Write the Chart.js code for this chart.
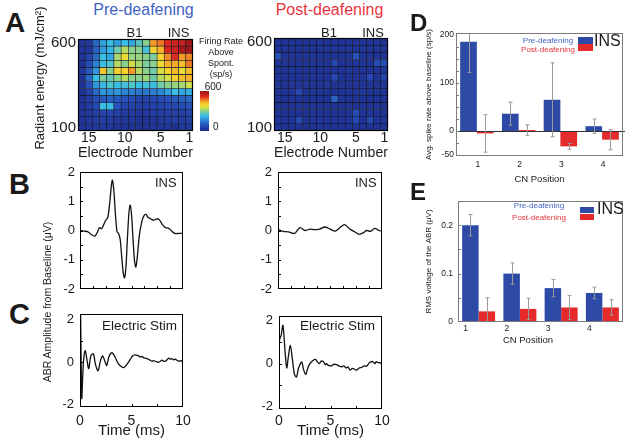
<!DOCTYPE html>
<html><head><meta charset="utf-8">
<script src="https://cdn.jsdelivr.net/npm/chart.js@4.4.1/dist/chart.umd.min.js"></script>
<style>
html,body{margin:0;padding:0;background:#fff;}
#root{position:relative;width:629px;height:445px;overflow:hidden;font-family:'Liberation Sans',Arial,Helvetica,sans-serif;color:#1a1a1a;}
canvas{position:absolute;}
.t{position:absolute;white-space:nowrap;line-height:1;}
</style></head><body><div id="root"></div>
<script>
// ---------------- DATA ----------------
const electrodes = ['16','15','14','13','12','11','10','9','8','7','6','5','4','3','2','1'];
const electrodeTickLabels = ['15','10','5','1'];
const energyLevels = ['600','558','517','475','433','392','350','308','267','225','183','142','100'];
const energyTickLabels = ['600','100'];
// firing rate above spontaneous (sp/s), rows top (600) -> bottom (100), columns electrode 16 -> 1
const ratePre = [
 [20,30,120,200,230,190,230,200,260,300,450,470,520,540,550,590],
 [20,30,110,190,220,280,330,300,300,240,400,430,530,540,580,590],
 [20,60,120,230,200,320,380,310,310,300,290,400,460,520,450,460],
 [20,80,150,230,250,330,300,350,320,290,300,380,430,440,420,470],
 [30,100,180,410,300,400,400,450,330,300,280,360,400,420,380,420],
 [20,120,230,290,270,300,330,300,300,310,280,330,350,400,420,430],
 [20,90,180,220,250,230,240,250,230,240,230,280,300,310,320,350],
 [20,60,120,180,170,180,160,150,140,140,150,160,190,230,200,210],
 [20,40,80,100,110,100,90,80,60,60,70,80,90,100,110,120],
 [20,40,70,230,230,90,60,60,50,50,50,60,70,70,80,90],
 [20,30,50,60,60,50,40,40,30,30,40,40,50,50,50,60],
 [20,30,40,50,40,30,30,30,20,20,20,30,40,50,40,50],
 [20,20,30,30,30,20,20,20,20,20,20,20,30,10,30,30]
];
const ratePost = [
 [20,20,25,20,20,20,25,20,20,20,20,25,20,20,25,20],
 [20,25,20,20,20,20,20,20,25,20,20,20,20,25,20,20],
 [90,20,20,20,25,20,20,20,20,20,20,90,20,20,20,20],
 [20,20,20,20,20,20,20,20,70,20,20,20,20,20,80,80],
 [20,20,25,20,20,20,20,20,20,20,25,20,20,20,20,25],
 [20,20,20,20,20,20,20,20,70,20,20,20,20,70,20,60],
 [25,20,20,20,20,20,20,25,20,20,20,20,20,20,20,20],
 [20,20,20,70,20,20,20,20,20,20,20,20,25,20,20,20],
 [20,20,20,20,20,20,20,20,110,20,20,20,20,20,20,20],
 [20,20,20,25,20,20,20,20,20,20,20,20,20,20,25,20],
 [20,20,20,20,20,20,20,20,20,20,20,80,20,20,20,20],
 [20,20,20,70,20,20,20,20,20,20,20,70,20,70,20,20],
 [20,20,20,20,20,20,25,20,20,20,20,25,20,20,20,20]
];
// ABR waveforms (time ms, amplitude uV)
const timeInsPre = [0,0.4,0.8,1.1,1.45,1.7,1.9,2.1,2.3,2.5,2.7,2.9,3.05,3.15,3.3,3.45,3.6,3.75,3.9,4.05,4.2,4.32,4.45,4.6,4.75,4.87,5.0,5.15,5.3,5.42,5.55,5.75,6.0,6.2,6.4,6.6,6.85,7.1,7.35,7.6,7.8,8.0,8.3,8.6,8.9,9.2,9.6,10];
const ampInsPre  = [0.0,-0.02,-0.05,-0.14,-0.19,-0.05,0.1,0.06,0.2,0.35,0.45,1.0,1.55,1.72,1.3,0.5,-0.05,-0.1,-0.3,-0.9,-1.45,-1.62,-1.3,-0.3,0.6,0.87,0.55,-0.3,-1.05,-1.25,-0.95,-0.2,0.3,0.5,0.55,0.45,0.4,0.35,0.38,0.4,0.32,0.2,0.1,0.08,-0.02,-0.1,-0.1,-0.1];
const timeInsPost = [0,0.5,1.0,1.6,2.1,2.6,3.1,3.5,4.0,4.5,5.0,5.5,5.9,6.4,6.9,7.4,7.8,8.2,8.5,8.9,9.3,9.7,10];
const ampInsPost  = [0.03,-0.03,-0.05,-0.1,0.1,0.0,0.05,0.03,0.05,0.12,0.05,-0.02,0.08,0.2,0.05,-0.05,-0.13,-0.08,0.0,-0.03,0.07,0.0,-0.02];
const timeElecPre = [0,0.05,0.1,0.17,0.25,0.35,0.5,0.65,0.85,1.05,1.3,1.5,1.75,2.0,2.2,2.45,2.6,2.8,3.1,3.4,3.7,4.0,4.25,4.55,4.9,5.1,5.35,5.5,5.7,5.85,6.0,6.15,6.3,6.5,6.65,6.8,7.0,7.15,7.3,7.5,7.6,7.8,7.95,8.1,8.3,8.45,8.6,8.75,8.9,9.1,9.25,9.4,9.6,9.8,10];
const ampElecPre  = [0,2.3,0.5,-1.7,-0.8,0.1,0.55,0.2,-0.3,0.3,0.4,-0.1,-0.4,0.1,0.3,0.0,-0.15,0.25,0.45,0.25,-0.05,-0.2,-0.25,-0.1,0.15,0.3,0.35,0.33,0.3,0.25,0.28,0.22,0.2,0.17,0.15,0.1,0.05,0.08,0.05,0.02,0.0,0.05,0.1,0.06,0.05,0.12,0.2,0.15,0.17,0.12,0.15,0.1,0.05,0.08,0.0];
const timeElecPost = [0,0.03,0.1,0.2,0.38,0.6,0.75,0.9,1.1,1.3,1.5,1.7,1.9,2.2,2.4,2.6,2.8,3.0,3.3,3.55,3.7,3.9,4.1,4.3,4.5,4.6,4.8,5.1,5.3,5.6,5.8,6.05,6.3,6.5,6.7,6.9,7.1,7.3,7.5,7.8,8.0,8.3,8.5,8.8,9.1,9.3,9.45,9.6,9.8,10];
const ampElecPost  = [-2.1,1.0,1.2,1.3,1.8,0.5,-0.2,0.3,0.85,0.2,-0.5,-0.62,-0.2,0.08,-0.3,-0.5,-0.2,0.0,0.15,0.2,0.1,0.0,0.12,0.1,-0.05,0.0,-0.08,-0.1,-0.03,-0.05,-0.1,-0.15,-0.1,-0.2,-0.15,-0.3,-0.22,-0.25,-0.3,-0.2,-0.18,-0.1,-0.12,0.05,0.1,0.0,0.1,0.05,0.05,-0.03];
const waveYTicks = [-2,-1,0,1,2];
const elecYTicks = [-2,0,2];
const timeTicks = [0,5,10];
// Panel D / E
const cnPositions = ['1','2','3','4'];
const spikePre = [186,36,65,10];
const spikePreErr = [64,24,77,15];
const spikePost = [-5,2,-32,-18];
const spikePostErr = [39,11,6,21];
const spikeTicks = [-50,0,100,200];
const rmsPre = [0.2,0.1,0.07,0.06];
const rmsPreErr = [0.022,0.022,0.018,0.012];
const rmsPost = [0.022,0.027,0.03,0.03];
const rmsPostErr = [0.028,0.022,0.025,0.016];
const rmsTicks = [0,0.1,0.2];

// ---------------- STYLE / HELPERS ----------------
const FONT = "'Liberation Sans', Arial, Helvetica, sans-serif";
Chart.defaults.font.family = FONT;
Chart.defaults.color = '#1a1a1a';
const BLUE = '#2d4aa6', RED = '#e52a2c', TBLUE = '#4262c4', TRED = '#e8343c';
const root = document.getElementById('root');

const cmap = [[0,[30,44,140]],[0.14,[38,78,185]],[0.28,[45,140,215]],[0.38,[55,190,230]],[0.48,[120,205,160]],[0.57,[200,222,80]],[0.65,[245,220,50]],[0.74,[245,165,40]],[0.85,[230,45,35]],[1,[150,20,25]]];
function cmapColor(t){
  t = Math.max(0, Math.min(1, t));
  for (let i=1;i<cmap.length;i++){
    if (t <= cmap[i][0]){
      const [t0,c0] = cmap[i-1], [t1,c1] = cmap[i];
      const f = (t-t0)/(t1-t0);
      return 'rgb(' + c0.map((c,k)=>Math.round(c+(c1[k]-c)*f)).join(',') + ')';
    }
  }
  return 'rgb(150,20,25)';
}
const rateColor = v => cmapColor(v/600);

function txt(s, x, base, size, o={}){
  const d = document.createElement('div');
  d.className='t'; d.textContent = s;
  d.style.fontSize = size+'px';
  d.style.top = (base - 0.8465*size)+'px';
  d.style.left = x+'px';
  if (o.bold) d.style.fontWeight='bold';
  if (o.color) d.style.color = o.color;
  if (o.align==='center') d.style.transform='translateX(-50%)';
  root.appendChild(d); return d;
}
function vtxt(s, cx, cy, size){
  const d = document.createElement('div'); d.className='t';
  d.textContent = s; d.style.fontSize = size+'px';
  d.style.left = cx+'px'; d.style.top = cy+'px';
  d.style.transform = 'translate(-50%,-50%) rotate(-90deg)';
  root.appendChild(d); return d;
}
function box(x,y,w,h,bg){
  const d=document.createElement('div'); d.style.position='absolute';
  d.style.left=x+'px'; d.style.top=y+'px'; d.style.width=w+'px'; d.style.height=h+'px'; d.style.background=bg;
  root.appendChild(d); return d;
}
function makeCanvas(area, m){
  const c = document.createElement('canvas');
  const w = area.r-area.l+m.L+m.R, h = area.b-area.t+m.T+m.B;
  c.width=w; c.height=h; c.style.width=w+'px'; c.style.height=h+'px';
  c.style.left=(area.l-m.L)+'px'; c.style.top=(area.t-m.T)+'px';
  root.appendChild(c); return c;
}
const zeroPad = s => { s.paddingLeft=0; s.paddingRight=0; s.paddingTop=0; s.paddingBottom=0; };
const fixW = w => s => { s.width = w; zeroPad(s); };
const fixH = h => s => { s.height = h; zeroPad(s); };

const framePlugin = {
  id: 'frame',
  afterDatasetsDraw(chart, args, o){
    const {ctx, chartArea:a, scales} = chart;
    ctx.save();
    if (o.zeroLine){
      const y = Math.round(scales.y.getPixelForValue(0))+0.5;
      ctx.strokeStyle='#333'; ctx.lineWidth=1;
      ctx.beginPath(); ctx.moveTo(a.left,y); ctx.lineTo(a.right+2,y); ctx.stroke();
    }
    if (o.errors){
      ctx.beginPath(); ctx.rect(a.left, a.top, a.right-a.left, a.bottom-a.top); ctx.clip();
      ctx.strokeStyle = o.errColor || '#9a9a9a'; ctx.lineWidth = 1;
      chart.data.datasets.forEach((ds, di) => {
        if (!ds.errors) return;
        chart.getDatasetMeta(di).data.forEach((bar, j) => {
          const v = ds.data[j], e = ds.errors[j];
          const x = Math.round(bar.x)+0.5;
          const y1 = scales.y.getPixelForValue(v+e), y2 = scales.y.getPixelForValue(v-e);
          ctx.beginPath();
          ctx.moveTo(x,y1); ctx.lineTo(x,y2);
          ctx.moveTo(x-2,y1); ctx.lineTo(x+2,y1);
          ctx.moveTo(x-2,y2); ctx.lineTo(x+2,y2);
          ctx.stroke();
        });
      });
    }
    ctx.restore();
  },
  afterDraw(chart, args, o){
    const {ctx, chartArea:a, scales} = chart;
    ctx.save();
    ctx.strokeStyle = o.color || '#000'; ctx.lineWidth = o.width || 1;
    if (o.ticks){
      const len = o.len || 3;
      ctx.beginPath();
      (o.ticks.y||[]).forEach(v => { const y = Math.round(scales.y.getPixelForValue(v))+0.5; ctx.moveTo(a.left, y); ctx.lineTo(a.left+len, y); });
      (o.ticks.x||[]).forEach(v => { const x = Math.round(scales.x.getPixelForValue(v))+0.5; ctx.moveTo(x, a.bottom); ctx.lineTo(x, a.bottom-len); });
      ctx.lineWidth = 1; ctx.stroke();
    }
    ctx.lineWidth = o.width || 1;
    ctx.strokeRect(a.left+0.5, a.top+0.5, a.right-a.left-1, a.bottom-a.top-1);
    ctx.restore();
  }
};

const base = { responsive:false, animation:false, devicePixelRatio:1, events:[] };

// ---------------- HEATMAPS ----------------
function heatmap(grid, area, m){
  const rows = energyLevels.length;
  const c = makeCanvas(area, m);
  new Chart(c, {
    type:'bar',
    data:{ labels: electrodes,
      datasets: grid.map((row,i)=>({
        data: row.map(()=>[rows-1-i, rows-i]),
        backgroundColor: row.map(rateColor),
        borderColor:'#141420', borderWidth:0.6, borderSkipped:false,
        grouped:false, barPercentage:1, categoryPercentage:1
      }))
    },
    options:{ ...base,
      layout:{padding:{top:m.T,right:m.R,left:0,bottom:0}},
      plugins:{legend:{display:false}, tooltip:{enabled:false}, frame:{color:'#000', width:1.2}},
      scales:{
        x:{ grid:{display:false, drawTicks:false}, border:{display:false}, afterFit: fixH(m.B),
            ticks:{autoSkip:false, maxRotation:0, padding:0, font:{size:14, lineHeight:1}, color:'#1a1a1a',
                   callback:(v,i)=> electrodeTickLabels.includes(electrodes[i]) ? electrodes[i] : ''},
            title:{display:true, text:'Electrode Number', font:{size:15}, padding:0, color:'#1a1a1a'} },
        y:{ type:'linear', min:0, max:rows, grid:{display:false, drawTicks:false}, border:{display:false}, afterFit: fixW(m.L),
            afterBuildTicks: s => { s.ticks = energyLevels.map((e,i)=>({value: rows-1-i+0.5})); },
            ticks:{autoSkip:false, padding:2, font:{size:15, lineHeight:1}, color:'#1a1a1a',
                   callback: v => { const e = energyLevels[rows-1-Math.floor(v)]; return energyTickLabels.includes(e) ? e : ''; }} }
      }
    },
    plugins:[framePlugin]
  });
}
heatmap(ratePre, {l:78,t:39,r:193,b:131}, {L:48,T:14,R:10,B:31});
heatmap(ratePost, {l:274,t:38,r:388,b:131}, {L:32,T:14,R:10,B:31});

// ---------------- WAVEFORMS ----------------
function wave(times, amps, area, m, o){
  const c = makeCanvas(area, m);
  new Chart(c, {
    type:'line',
    data:{ datasets:[{ data: times.map((t,i)=>({x:t, y:amps[i]})), borderColor:'#111', borderWidth:1.3,
           pointRadius:0, tension:0.3, fill:false }]},
    options:{ ...base,
      layout:{padding:{top:m.T,right:m.R,left:0,bottom:0}},
      plugins:{legend:{display:false}, tooltip:{enabled:false},
               frame:{color:'#000', width:1, len:3, ticks:o.innerTicks}},
      scales:{
        x:{ type:'linear', min:0, max:10, grid:{display:false, drawTicks:false}, border:{display:false}, afterFit: fixH(m.B),
            afterBuildTicks: s => { s.ticks = timeTicks.map(v=>({value:v})); },
            ticks:{display: o.xLabels, padding:o.xPad||0, maxRotation:0, font:{size:14, lineHeight:1}, color:'#1a1a1a'},
            title:{display: o.xLabels, text:'Time (ms)', font:{size:15}, padding:0, color:'#1a1a1a'} },
        y:{ type:'linear', min:o.ymin, max:o.ymax, grid:{display:false, drawTicks:false}, border:{display:false}, afterFit: fixW(m.L),
            afterBuildTicks: s => { s.ticks = o.yTicks.map(v=>({value:v})); },
            ticks:{padding:o.yPad, font:{size:13, lineHeight:1}, color:'#1a1a1a'} }
      }
    },
    plugins:[framePlugin]
  });
}
const bInner = {y:[-1.5,-1,-0.5,0,0.5,1,1.5], x:[1.25,2.5,3.75,5,6.25,7.5,8.75]};
const cInner = {y:[-1,0,1], x:[2.5,5,7.5]};
wave(timeInsPre, ampInsPre, {l:80,t:172,r:183,b:289}, {L:25,T:9,R:8,B:10}, {ymin:-2, ymax:2, yTicks:waveYTicks, yPad:5, xLabels:false, innerTicks:bInner});
wave(timeInsPost, ampInsPost, {l:278,t:172,r:382,b:289}, {L:25,T:9,R:8,B:10}, {ymin:-2, ymax:2, yTicks:waveYTicks, yPad:6, xLabels:false, innerTicks:bInner});
wave(timeElecPre, ampElecPre, {l:80,t:314,r:183,b:407}, {L:25,T:9,R:12,B:33}, {ymin:-2.1, ymax:2.27, yTicks:elecYTicks, yPad:6, xLabels:true, xPad:7, innerTicks:cInner});
wave(timeElecPost, ampElecPost, {l:279,t:316,r:382,b:409}, {L:25,T:9,R:12,B:31}, {ymin:-2.12, ymax:2.23, yTicks:elecYTicks, yPad:6, xLabels:true, xPad:5, innerTicks:cInner});

// ---------------- BAR PANELS D / E ----------------
function barPanel(pre, preErr, post, postErr, area, m, o){
  const c = makeCanvas(area, m);
  new Chart(c, {
    type:'bar',
    data:{ labels: cnPositions, datasets:[
      {label:'Pre-deafening', data: pre, errors: preErr, backgroundColor: BLUE, categoryPercentage:0.8, barPercentage:1},
      {label:'Post-deafening', data: post, errors: postErr, backgroundColor: RED, categoryPercentage:0.8, barPercentage:1}
    ]},
    options:{ ...base,
      layout:{padding:{top:m.T,right:m.R,left:0,bottom:0}},
      plugins:{legend:{display:false}, tooltip:{enabled:false},
               frame:{color:'#7a7a7a', width:1, len:3, ticks:{y:o.innerY}, errors:true, zeroLine:o.zeroLine}},
      scales:{
        x:{ grid:{display:false, drawTicks:false}, border:{display:false}, afterFit: fixH(m.B),
            ticks:{padding:o.xPad, labelOffset:o.labelOffset, font:{size:8.5, lineHeight:1}, color:'#1a1a1a'},
            title:{display: !!o.xTitle, text:o.xTitle||'', font:{size:9.5}, padding:0, color:'#1a1a1a'} },
        y:{ type:'linear', min:o.ymin, max:o.ymax, grid:{display:false, drawTicks:false}, border:{display:false}, afterFit: fixW(m.L),
            afterBuildTicks: s => { s.ticks = o.yTicks.map(v=>({value:v})); },
            ticks:{padding:o.yPad, font:{size:8.5, lineHeight:1}, color:'#1a1a1a'},
            title:{display:true, text:o.yTitle, font:{size:8}, padding:{top:4,bottom:4}, color:'#1a1a1a'} }
      }
    },
    plugins:[framePlugin]
  });
}
barPanel(spikePre, spikePreErr, spikePost, spikePostErr, {l:456,t:33,r:623,b:156}, {L:36,T:8,R:5,B:29},
  {ymin:-52, ymax:204, yTicks:spikeTicks, innerY:[-25,0,25,50,75,100,125,150,175], yPad:2, xPad:4, labelOffset:1,
   xTitle:'CN Position', yTitle:'Avg. spike rate above baseline (sp/s)', zeroLine:true});
barPanel(rmsPre, rmsPreErr, rmsPost, rmsPostErr, {l:458,t:201,r:623,b:322}, {L:38,T:8,R:5,B:14},
  {ymin:0, ymax:0.25, yTicks:rmsTicks, innerY:[0.05,0.1,0.15,0.2], yPad:5, xPad:2.5, labelOffset:-13,
   xTitle:null, yTitle:'RMS voltage of the ABR (μV)', zeroLine:false});

// ---------------- TEXT / LEGENDS ----------------
txt('A', 5, 33, 28, {bold:true});
txt('B', 9, 195, 29, {bold:true});
txt('C', 9, 325, 29, {bold:true});
txt('D', 410, 31, 24, {bold:true});
txt('E', 410, 200, 24, {bold:true});
txt('Pre-deafening', 143.5, 16, 16, {align:'center', color:TBLUE});
txt('Post-deafening', 329.5, 16, 16, {align:'center', color:TRED});
txt('B1', 134.5, 37, 13, {align:'center'}); txt('INS', 178.5, 37, 13, {align:'center'});
txt('B1', 329, 37, 13, {align:'center'}); txt('INS', 373, 37, 13, {align:'center'});
vtxt('Radiant energy (mJ/cm²)', 39, 78, 13);
// colour bar
(function(){
  const stops = cmap.map(([t,c]) => 'rgb('+c.join(',')+') '+(t*100)+'%').join(',');
  box(200, 91, 9, 40, 'linear-gradient(to top,'+stops+')');
  ['Firing Rate','Above','Spont.','(sp/s)'].forEach((s,i)=>txt(s, 221, 45+i*10.8, 9, {align:'center'}));
  txt('600', 213, 90, 10, {align:'center'});
  txt('0', 213, 130, 10);
})();
txt('INS', 155, 187, 13); txt('INS', 355, 187, 13);
txt('Electric Stim', 102, 330, 13.5); txt('Electric Stim', 300, 330, 13.5);
vtxt('ABR Amplitude from Baseline (μV)', 47, 302, 10.5);
// legends D
txt('Pre-deafening', 548, 44, 8, {align:'center', color:TBLUE});
txt('Post-deafening', 548, 53, 8, {align:'center', color:TRED});
box(578, 37, 15, 6.5, BLUE); box(578, 44, 15, 6.5, RED);
txt('INS', 594, 47, 16);
// legends E
txt('Pre-deafening', 539, 208.5, 8, {align:'center', color:TBLUE});
txt('Post-deafening', 539, 220.5, 8, {align:'center', color:TRED});
box(580, 207, 14, 6, BLUE); box(580, 214, 14, 6, RED);
txt('INS', 597, 215, 16);
txt('CN Position', 528, 343, 9.5, {align:'center'});
</script></body></html>
